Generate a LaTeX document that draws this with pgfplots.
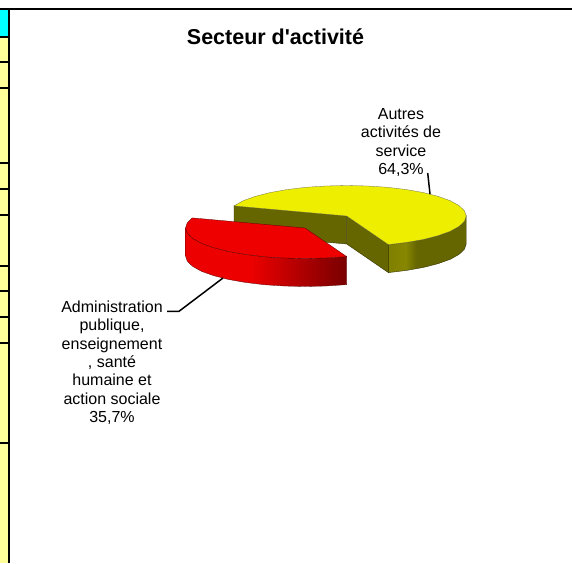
\documentclass[border=0pt]{standalone}
\usepackage{fontspec}
\setmainfont{Liberation Sans}
\newfontfamily\titlef{Liberation Sans}
\usepackage{pgfplots}
\pgfplotsset{compat=1.18}
\definecolor{stripY}{HTML}{FFFF99}
\definecolor{stripC}{RGB}{0,255,255}
\definecolor{pieY}{HTML}{EEEE00}
\definecolor{pieR}{HTML}{EE0000}
\definecolor{olive}{HTML}{666600}
\definecolor{edge}{HTML}{333300}
\definecolor{edgeR}{HTML}{550000}
\pgfdeclarehorizontalshading{redwall}{100bp}{
 rgb(0bp)=(0.93,0,0); rgb(25bp)=(0.93,0,0); rgb(45bp)=(0.93,0,0);
 rgb(75bp)=(0.47,0,0); rgb(100bp)=(0.47,0,0)}
\pgfdeclarehorizontalshading{yellowwall}{100bp}{
 rgb(0bp)=(0.50,0.50,0); rgb(25bp)=(0.50,0.50,0); rgb(36bp)=(0.53,0.53,0);
 rgb(43bp)=(0.40,0.40,0); rgb(75bp)=(0.40,0.40,0); rgb(100bp)=(0.40,0.40,0)}
\begin{document}
\begin{tikzpicture}
\begin{axis}[
  scale only axis, width=572pt, height=563pt,
  xmin=0, xmax=572, ymin=0, ymax=563, y dir=reverse,
  axis lines=none, clip=true,
  axis background/.style={fill=white},
]
% left strip
\addplot[fill=stripC, draw=none] coordinates {(0,9) (8,9) (8,36.7) (0,36.7)} --cycle;
\addplot[fill=stripY, draw=none] coordinates {(0,36.7) (8,36.7) (8,563) (0,563)} --cycle;
\foreach \yy in {37,62,88,163,189,215,266,291,317,343,443}{
  \edef\tmp{\noexpand\addplot[black, line width=1.6pt] coordinates {(0,\yy) (8,\yy)};}\tmp
}
\addplot[black, line width=2pt] coordinates {(0,9) (572,9)};
\addplot[black, line width=2pt] coordinates {(9,9) (9,563)};
% yellow inner walls
\addplot[fill=olive, draw=edge, line width=0.4pt] coordinates {(234.0,205.9) (346.7,216) (346.7,244) (234.0,233.9)} --cycle;
\addplot[fill=olive, draw=edge, line width=0.4pt] coordinates {(346.7,216) (388.4,244.6) (388.4,272.6) (346.7,244)} --cycle;
% yellow outer wall
\addplot[shading=yellowwall, draw=edge, line width=0.4pt] coordinates {
 (388.4,244.6) (406.5,242.4) (423.5,239.4) (438.2,235.6) (450.2,231.3) (459.0,226.4) (464.4,221.3) (466.2,216)
 (466.2,244) (464.4,249.3) (459.0,254.4) (450.2,259.3) (438.2,263.6) (423.5,267.4) (406.5,270.4) (388.4,272.6)} --cycle;
% yellow top
\addplot[fill=pieY, draw=edge!70, line width=0.3pt] coordinates {
 (346.7,216) (234.0,205.9) (243.2,200.7) (255.2,196.4) (269.9,192.6) (286.9,189.6) (305.8,187.3) (325.9,186.0) (346.7,185.5)
 (367.5,186.0) (387.6,187.3) (406.5,189.6) (423.5,192.6) (438.2,196.4) (450.2,200.7) (459.0,205.6) (464.4,210.7) (466.2,216)
 (464.4,221.3) (459.0,226.4) (450.2,231.3) (438.2,235.6) (423.5,239.4) (406.5,242.4) (388.4,244.6)} --cycle;
% red outer wall
\addplot[shading=redwall, draw=edgeR, line width=0.3pt] coordinates {
 (185.5,228) (187.3,233.3) (192.7,238.4) (201.5,243.3) (213.5,247.6) (228.2,251.4) (245.2,254.4) (264.1,256.7) (284.2,258) (305,258.5) (325.8,258) (346.7,256.6)
 (346.7,284.6) (325.8,286) (305,286.5) (284.2,286) (264.1,284.7) (245.2,282.4) (228.2,279.4) (213.5,275.6) (201.5,271.3) (192.7,266.4) (187.3,261.3) (185.5,256)} --cycle;
% red top
\addplot[fill=pieR, draw=edgeR, line width=0.3pt] coordinates {
 (305,228) (192.3,217.9) (187.3,222.7) (185.5,228) (187.3,233.3) (192.7,238.4) (201.5,243.3) (213.5,247.6) (228.2,251.4) (245.2,254.4) (264.1,256.7) (284.2,258) (305,258.5) (325.8,258) (346.7,256.6)} --cycle;
% leaders
\addplot[black, line width=1.5pt] coordinates {(427.7,173) (430,194)};
\addplot[black, line width=1.5pt] coordinates {(167,311.3) (179,311.3) (223,278)};
% labels
\node[font=\fontsize{21.5pt}{26pt}\selectfont\titlef\bfseries, anchor=center] at (axis cs:275.5,36.5) {Secteur d'activité};
\node[font=\fontsize{16pt}{18.3pt}\selectfont, align=center, anchor=center] at (axis cs:401,142.5) {Autres\\activités de\\service\\64,3\%};
\node[font=\fontsize{16pt}{18.3pt}\selectfont, align=center, anchor=center] at (axis cs:112,362.7) {Administration\\publique,\\enseignement\\, santé\\humaine et\\action sociale\\35,7\%};
\end{axis}
\end{tikzpicture}
\end{document}
